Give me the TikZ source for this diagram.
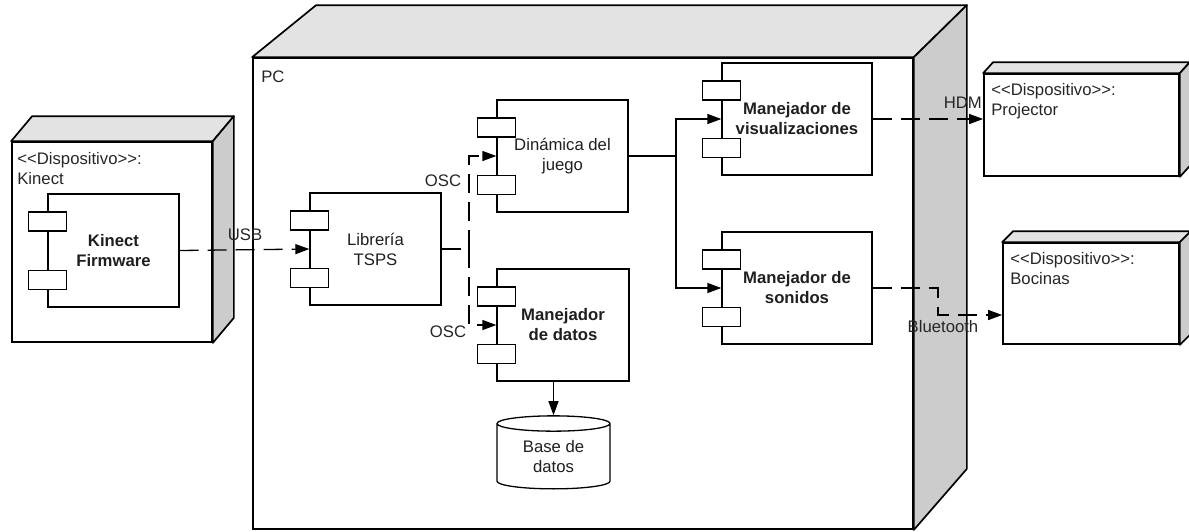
\documentclass[tikz,border=0pt]{standalone}
\usepackage{fontspec}
\setmainfont{Liberation Sans}
\usetikzlibrary{positioning,arrows.meta,calc,shapes.geometric}
\newcommand{\stereo}[1]{<\kern0pt<#1>\kern0pt>:}

\begin{document}
\begin{tikzpicture}[
  x=1pt, y=-1pt,
  font=\fontsize{16.7}{20}\selectfont,
  device/.style={rectangle, draw, line width=1.7pt, fill=white, inner sep=0},
  topface/.style={draw, line width=1.7pt, line join=round, fill=black!11},
  sideface/.style={draw, line width=1.7pt, line join=round, fill=black!20},
  comp/.style={rectangle, draw, line width=1.3pt, fill=white,
    align=center, text=black!88, inner sep=0},
  tab/.style={rectangle, draw, line width=1.3pt, fill=white,
    minimum width=38pt, minimum height=19pt, inner sep=0},
  lbl/.style={anchor=north west, align=left, inner sep=0, text=black!85},
  tag/.style={inner sep=0, text=black!85},
  arr/.style={-{Triangle[length=14pt,width=10pt]}, line width=1.3pt},
  lnk/.style={line width=1.3pt, dash pattern=on 19pt off 9pt}
]
\useasboundingbox (0,0) rectangle (1189,531);

% nodes (front faces)
\node[device, minimum width=200pt, minimum height=200pt] (kin)  at (112,242) {};
\node[device, minimum width=660pt, minimum height=471pt] (pc)   at (583,293.5) {};
\node[device, minimum width=195pt, minimum height=102pt] (proj) at (1081.5,125) {};
\node[device, minimum width=176pt, minimum height=101pt] (boc)  at (1091,293.5) {};

% 3D faces
\foreach \n/\dx/\dy in {kin/21/25, proj/10/11, boc/11/11} {
  \draw[topface] (\n.north west) -- ++(\dx,-\dy) -- ($(\n.north east)+(\dx,-\dy)$)
    -- (\n.north east) -- cycle;
  \draw[sideface] (\n.north east) -- ++(\dx,-\dy) -- ($(\n.south east)+(\dx,-\dy)$)
    -- (\n.south east) -- cycle;
}
\draw[topface] (pc.north west) -- ++(64,-52) -- ($(pc.north east)+(53,-52)$)
  -- (pc.north east) -- cycle;
\draw[sideface] (pc.north east) -- ++(53,-52) -- ($(pc.south east)+(53,-61)$)
  -- (pc.south east) -- cycle;

\node[lbl] at ($(kin.north west)+(6,11)$)  {\stereo{Dispositivo}\\Kinect};
\node[lbl] at ($(pc.north west)+(9,13)$)   {PC};
\node[lbl] at ($(proj.north west)+(8,10)$) {\stereo{Dispositivo}\\Projector};
\node[lbl] at ($(boc.north west)+(8,10)$)  {\stereo{Dispositivo}\\Bocinas};

% components
\node[comp, minimum width=131pt, minimum height=113pt, font=\fontsize{16.7}{20}\selectfont\bfseries]
  (kfw) at (113.5,250.5) {Kinect\\Firmware};
\node[comp, minimum width=131pt, minimum height=112pt] (lib) at (375.5,249) {Librería\\TSPS};
\node[comp, minimum width=131pt, minimum height=112pt] (din) at (562.5,156) {Dinámica del\\juego};
\node[comp, minimum width=132pt, minimum height=112pt, font=\fontsize{16.7}{20}\selectfont\bfseries]
  (mdat) at (563,325) {Manejador\\de datos};
\node[comp, minimum width=150pt, minimum height=112pt, font=\fontsize{16.7}{20}\selectfont\bfseries]
  (mvis) at (797,119) {Manejador de\\visualizaciones};
\node[comp, minimum width=150pt, minimum height=112pt, font=\fontsize{16.7}{20}\selectfont\bfseries]
  (mson) at (797,288) {Manejador de\\sonidos};
\foreach \c in {kfw,lib,din,mdat,mvis,mson} {
  \node[tab] at ($(\c.north west)+(0,28)$) {};
  \node[tab] at ($(\c.south west)+(0,-28)$) {};
}
\node[cylinder, shape border rotate=90, draw, line width=1.3pt, fill=white,
  minimum width=113pt, minimum height=73pt, aspect=0.25, align=center,
  text=black!88, inner sep=0] (db) at (553.5,456.5) {Base de\\datos};

% connectors
\coordinate (osc) at (469,249);
\coordinate (jn)  at (676,156);
\coordinate (bt)  at (938,288);
\coordinate (bt2) at (938,315);
\draw[arr, lnk] (kfw.east) -- (lib.west);
\draw[lnk] (lib.east) -- (osc);
\draw[arr, lnk] (osc) |- (din.west);
\draw[arr, lnk] (osc) |- (mdat.west);
\draw[line width=1.3pt] (din.east) -- (jn);
\draw[arr] (jn) |- (mvis.west);
\draw[arr] (jn) |- (mson.west);
\draw[arr] (db.north |- mdat.south) -- (db.north);
\draw[arr, lnk] (mvis.east) -- (mvis.east -| proj.west);
\draw[arr, lnk] (mson.east) -- (bt) -- (bt2) -- (bt2 -| boc.west);

% labels
\node[tag] at (245,235) {USB};
\node[tag] at (443,181) {OSC};
\node[tag] at (448,332) {OSC};
\node[tag, anchor=east] at (982,103) {HDM};
\node[tag] at (943,327) {Bluetooth};
\end{tikzpicture}
\end{document}
